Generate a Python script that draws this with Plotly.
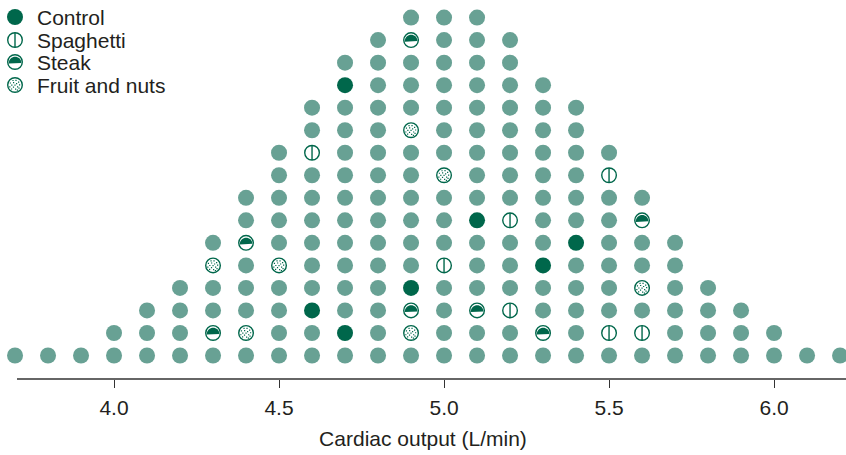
import plotly.graph_objects as go

# cardiac output bins (L/min) and how many subjects fall in each bin
cardiac_output = [3.7, 3.8, 3.9, 4.0, 4.1, 4.2, 4.3, 4.4, 4.5, 4.6, 4.7, 4.8, 4.9,
                  5.0, 5.1, 5.2, 5.3, 5.4, 5.5, 5.6, 5.7, 5.8, 5.9, 6.0, 6.1, 6.2]
counts = [1, 1, 1, 2, 3, 4, 6, 8, 10, 12, 14, 15, 16,
          16, 16, 15, 13, 12, 10, 8, 6, 4, 3, 2, 1, 1]

# highlighted subjects: bin and position in the stack (1 = bottom dot)
control_x = [4.7, 5.1, 5.4, 5.3, 4.9, 4.6, 4.7]
control_row = [13, 7, 6, 5, 4, 3, 2]
spaghetti_x = [4.6, 5.5, 5.2, 5.0, 5.2, 5.5, 5.6]
spaghetti_row = [10, 9, 7, 5, 3, 2, 2]
steak_x = [4.9, 5.6, 4.4, 4.9, 5.1, 4.3, 5.3]
steak_row = [15, 7, 6, 3, 3, 2, 2]
fruit_x = [4.9, 5.0, 4.3, 4.5, 5.6, 4.4, 4.9]
fruit_row = [11, 9, 5, 5, 4, 2, 2]

legend_labels = ["Control", "Spaghetti", "Steak", "Fruit and nuts"]

LIGHT = "#68a194"
DARK = "#00674b"
TEXT = "#231f20"
FONT = "Liberation Sans, Arial, sans-serif"

# pixel offsets for the glyph decorations (y up)
DOME = "M -6.3,-1.6 C -6.3,7.4 6.3,7.4 6.3,-1.0 Z"
SPECKS = [(-2, 4.5), (1, 4.6), (3.6, 2.8), (-4.6, 2.0), (-1.4, 2.4), (1.6, 1.4),
          (4.6, 0.2), (-3.2, -0.1), (0, -0.2), (2.6, -1.8), (-5.2, -1.8),
          (-1.5, -2.2), (4.0, -3.2), (-3.4, -4.0), (0.6, -4.2), (2.4, -5.2)]
SPECK_PATH = " ".join(
    "M %.2f,%.2f L %.2f,%.2f L %.2f,%.2f L %.2f,%.2f Z"
    % (dx - 0.6, dy - 0.6, dx + 0.6, dy - 0.6, dx + 0.6, dy + 0.6, dx - 0.6, dy + 0.6)
    for dx, dy in SPECKS)

special = set()
for xs, rs in [(control_x, control_row), (spaghetti_x, spaghetti_row),
               (steak_x, steak_row), (fruit_x, fruit_row)]:
    for x, r in zip(xs, rs):
        special.add((round(x, 1), r))

plain_x, plain_y = [], []
for x, n in zip(cardiac_output, counts):
    for r in range(1, n + 1):
        if (round(x, 1), r) not in special:
            plain_x.append(x)
            plain_y.append(r)

fig = go.Figure()

fig.add_trace(go.Scatter(x=plain_x, y=plain_y, mode="markers", cliponaxis=False,
                         marker=dict(size=16, color=LIGHT, line_width=0)))
fig.add_trace(go.Scatter(x=control_x, y=control_row, mode="markers", cliponaxis=False,
                         marker=dict(size=16, color=DARK, line_width=0)))

open_x = spaghetti_x + steak_x + fruit_x
open_y = spaghetti_row + steak_row + fruit_row
fig.add_trace(go.Scatter(x=open_x, y=open_y, mode="markers", cliponaxis=False,
                         marker=dict(size=14.6, color="white",
                                     line=dict(color=DARK, width=1.4))))
fig.add_trace(go.Scatter(x=spaghetti_x, y=spaghetti_row, mode="markers", cliponaxis=False,
                         marker=dict(symbol="line-ns", size=10.4,
                                     line=dict(color=DARK, width=1.4))))


def deco(x, y, path, xref="x", yref="y"):
    fig.add_shape(type="path", xref=xref, yref=yref, xsizemode="pixel",
                  ysizemode="pixel", xanchor=x, yanchor=y, path=path,
                  fillcolor=DARK, line_width=0, layer="above")


for x, r in zip(steak_x, steak_row):
    deco(x, r, DOME)
for x, r in zip(fruit_x, fruit_row):
    deco(x, r, SPECK_PATH)

# legend, drawn on an overlay axis measured in pixels
leg_x = 15
leg_y = [17, 40, 62, 85]
fig.add_trace(go.Scatter(x=[leg_x], y=[leg_y[0]], xaxis="x2", yaxis="y2",
                         mode="markers", cliponaxis=False,
                         marker=dict(size=16, color=DARK, line_width=0)))
fig.add_trace(go.Scatter(x=[leg_x] * 3, y=leg_y[1:], xaxis="x2", yaxis="y2",
                         mode="markers", cliponaxis=False,
                         marker=dict(size=14.6, color="white",
                                     line=dict(color=DARK, width=1.4))))
fig.add_trace(go.Scatter(x=[leg_x], y=[leg_y[1]], xaxis="x2", yaxis="y2",
                         mode="markers", cliponaxis=False,
                         marker=dict(symbol="line-ns", size=10.4,
                                     line=dict(color=DARK, width=1.4))))
deco(leg_x, leg_y[2], DOME, "x2", "y2")
deco(leg_x, leg_y[3], SPECK_PATH, "x2", "y2")
for label, y in zip(legend_labels, leg_y):
    fig.add_annotation(x=35, y=y, xref="x2", yref="y2", text=label, showarrow=False,
                       xanchor="left", yanchor="middle",
                       font=dict(family=FONT, size=21, color=TEXT))

# axis baseline starts a little right of the first column, as in the original
fig.add_shape(type="line", xref="paper", yref="paper", x0=17 / 846, x1=1, y0=0, y1=0,
              line=dict(color="#333333", width=1.5), layer="above")

fig.update_layout(
    width=846, height=455,
    margin=dict(l=0, r=0, t=0, b=76),
    plot_bgcolor="white", paper_bgcolor="white",
    showlegend=False,
    xaxis=dict(range=[3.6545, 6.218], tickvals=[4.0, 4.5, 5.0, 5.5, 6.0],
               ticktext=["4.0", "4.5", "5.0", "5.5", "6.0"],
               showline=False,
               ticks="outside", ticklen=8, tickwidth=1.3, tickcolor="#333333",
               ticklabelstandoff=2,
               showgrid=False, zeroline=False,
               tickfont=dict(family=FONT, size=21, color=TEXT),
               title=dict(text="Cardiac output (L/min)", standoff=13,
                          font=dict(family=FONT, size=21, color=TEXT))),
    yaxis=dict(range=[-0.043, 16.78], visible=False),
    xaxis2=dict(range=[0, 846], overlaying="x", anchor="y2", visible=False),
    yaxis2=dict(range=[379, 0], overlaying="y", anchor="x2", visible=False),
)

fig.write_html("out.html", config={"displayModeBar": False},
               post_script="document.body.style.margin='0';"
                           "document.body.style.overflow='hidden';")
